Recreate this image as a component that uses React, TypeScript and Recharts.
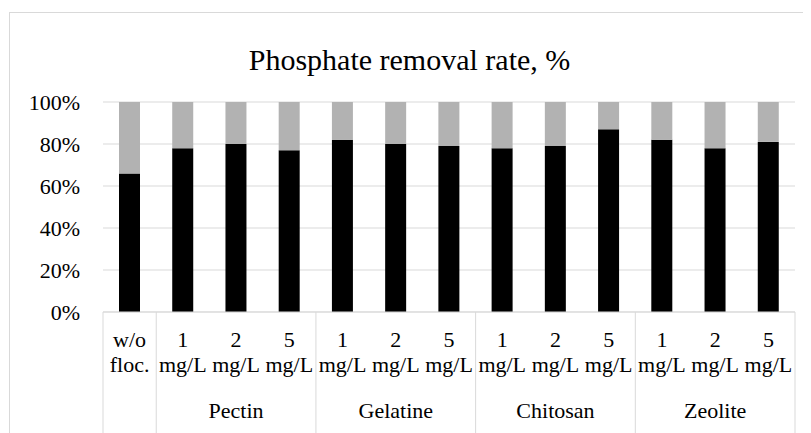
import { BarChart, Bar, XAxis, YAxis, CartesianGrid } from 'recharts'

// dose labels, two lines each
const doseTop = ['w/o', '1', '2', '5', '1', '2', '5', '1', '2', '5', '1', '2', '5']
const doseBottom = ['floc.', 'mg/L', 'mg/L', 'mg/L', 'mg/L', 'mg/L', 'mg/L', 'mg/L', 'mg/L', 'mg/L', 'mg/L', 'mg/L', 'mg/L']
const groupNames = ['', 'Pectin', 'Gelatine', 'Chitosan', 'Zeolite']
const groupSizes = [1, 3, 3, 3, 3]

// removal share (black) and the rest (grey), %
const removed = [66, 78, 80, 77, 82, 80, 79, 78, 79, 87, 82, 78, 81]
const remaining = [34, 22, 20, 23, 18, 20, 21, 22, 21, 13, 18, 22, 19]
const yTicks = [0, 20, 40, 60, 80, 100]

const data = removed.map((v, i) => ({ idx: i, removed: v, remaining: remaining[i] }))

const FONT = "'Liberation Serif', Tinos, 'Times New Roman', 'DejaVu Serif', serif"
const GRID = '#d9d9d9'
const PLOT_W = 692
const BAND = PLOT_W / removed.length

const groupStarts = groupSizes.map((_, g) => groupSizes.slice(0, g).reduce((a, b) => a + b, 0))

function DoseTick(props: any) {
  const { x, y, index } = props
  const i = index as number
  const left = x - BAND / 2
  const g = groupStarts.indexOf(i)
  const last = i === removed.length - 1
  return (
    <g>
      <text x={x} y={y + 35} textAnchor="middle" fontSize={22} fontFamily={FONT} fill="#000">
        {doseTop[i]}
      </text>
      <text x={x} y={y + 60} textAnchor="middle" fontSize={22} fontFamily={FONT} fill="#000">
        {doseBottom[i]}
      </text>
      {g >= 0 && <line x1={left} x2={left} y1={y} y2={y + 140} stroke={GRID} />}
      {last && <line x1={x + BAND / 2} x2={x + BAND / 2} y1={y} y2={y + 140} stroke={GRID} />}
      {g >= 0 && groupNames[g] && (
        <text
          x={left + (groupSizes[g] * BAND) / 2}
          y={y + 106}
          textAnchor="middle"
          fontSize={22}
          fontFamily={FONT}
          fill="#000"
        >
          {groupNames[g]}
        </text>
      )}
    </g>
  )
}

export default function App() {
  return (
    <div style={{ position: 'relative', width: 803, height: 425, overflow: 'hidden', fontFamily: FONT }}>
      <div
        style={{
          position: 'absolute',
          left: 1,
          top: 4,
          width: 801,
          height: 500,
          border: `1px solid ${GRID}`,
          boxSizing: 'border-box',
        }}
      />
      <div
        style={{
          position: 'absolute',
          left: 0,
          top: 35,
          width: 803,
          textAlign: 'center',
          fontSize: 30,
          lineHeight: '34px',
          color: '#000',
        }}
      >
        Phosphate removal rate, %
      </div>
      <BarChart
        width={803}
        height={425}
        data={data}
        margin={{ top: 94, right: 16, left: 35, bottom: 0 }}
        barSize={21}
        style={{ position: 'absolute', left: 0, top: 0 }}
      >
        <CartesianGrid vertical={false} stroke={GRID} />
        <XAxis
          dataKey="idx"
          height={121}
          interval={0}
          tickSize={0}
          tickMargin={0}
          tickLine={false}
          axisLine={{ stroke: GRID }}
          tick={<DoseTick />}
        />
        <YAxis
          width={60}
          domain={[0, 100]}
          ticks={yTicks}
          tickFormatter={(v: number) => `${v}%`}
          axisLine={false}
          tickLine={false}
          tickSize={0}
          tickMargin={23}
          tick={{ fontSize: 22, fontFamily: FONT, fill: '#000' }}
        />
        <Bar dataKey="removed" stackId="a" fill="#000000" isAnimationActive={false} />
        <Bar dataKey="remaining" stackId="a" fill="#b2b2b2" isAnimationActive={false} />
      </BarChart>
    </div>
  )
}
